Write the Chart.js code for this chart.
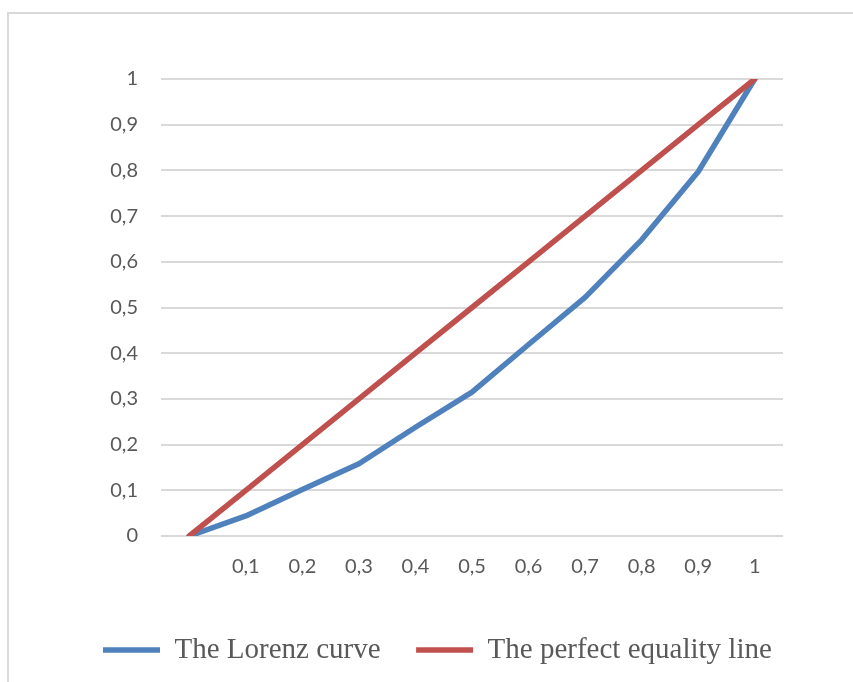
<!DOCTYPE html>
<html>
<head>
<meta charset="utf-8">
<script src="https://cdn.jsdelivr.net/npm/chart.js@4/dist/chart.umd.min.js"></script>
<style>
  html, body { margin: 0; padding: 0; background: #ffffff; }
  #wrap { position: relative; width: 853px; height: 682px; overflow: hidden; }
  #frame { position: absolute; left: 7px; top: 12px; width: 900px; height: 700px;
           border-left: 2px solid #d9d9d9; border-top: 2px solid #d9d9d9; box-sizing: border-box; }
  canvas { position: absolute; left: 0; top: 0; }
</style>
</head>
<body>
<div id="wrap">
  <div id="frame"></div>
  <canvas id="c" width="853" height="682"></canvas>
</div>
<script>
// Categories (x positions); first one is the unlabeled origin
const xLabels = ['', '0,1', '0,2', '0,3', '0,4', '0,5', '0,6', '0,7', '0,8', '0,9', '1'];
// Y tick labels
const yTickLabels = ['0', '0,1', '0,2', '0,3', '0,4', '0,5', '0,6', '0,7', '0,8', '0,9', '1'];
// Series
const lorenzValues = [0, 0.044, 0.102, 0.158, 0.238, 0.315, 0.419, 0.522, 0.648, 0.797, 1];
const equalityValues = [0, 0.1, 0.2, 0.3, 0.4, 0.5, 0.6, 0.7, 0.8, 0.9, 1];
const seriesNames = ['The Lorenz curve', 'The perfect equality line'];

const BLUE = '#4f81bd';
const RED = '#c0504d';
const TEXT = '#595959';

new Chart(document.getElementById('c'), {
  type: 'line',
  data: {
    labels: xLabels,
    datasets: [
      {
        label: seriesNames[0],
        data: lorenzValues,
        borderColor: BLUE,
        backgroundColor: BLUE,
        borderWidth: 5.5,
        borderCapStyle: 'round',
        borderJoinStyle: 'round',
        pointRadius: 0,
        tension: 0,
        order: 1
      },
      {
        label: seriesNames[1],
        data: equalityValues,
        borderColor: RED,
        backgroundColor: RED,
        borderWidth: 5.5,
        borderCapStyle: 'round',
        borderJoinStyle: 'round',
        pointRadius: 0,
        tension: 0,
        order: 0
      }
    ]
  },
  options: {
    responsive: false,
    animation: false,
    layout: { padding: { top: 79, right: 20, bottom: 7.5, left: 67.5 } },
    plugins: {
      tooltip: { enabled: false },
      legend: {
        display: true,
        position: 'bottom',
        align: 'start',
        labels: {
          usePointStyle: true,
          pointStyle: 'line',
          pointStyleWidth: 57,
          padding: 35.5,
          color: TEXT,
          font: { family: '"Liberation Serif", "Times New Roman", serif', size: 29 },
          sort: (a, b) => a.datasetIndex - b.datasetIndex
        }
      }
    },
    scales: {
      x: {
        type: 'category',
        offset: true,
        grid: { display: false, drawTicks: false },
        border: { display: false },
        ticks: {
          color: TEXT,
          padding: 19,
          maxRotation: 0,
          autoSkip: false,
          font: { family: 'Lato, "Open Sans", sans-serif', size: 20 }
        },
        afterFit: (scale) => { scale.height = 64; }
      },
      y: {
        min: 0,
        max: 1,
        grid: { color: '#d9d9d9', lineWidth: 2, drawTicks: false },
        border: { display: false },
        ticks: {
          stepSize: 0.1,
          color: TEXT,
          padding: 23,
          font: { family: 'Lato, "Open Sans", sans-serif', size: 20 },
          callback: (v, i) => yTickLabels[i]
        },
        afterFit: (scale) => { scale.width = 93.5; }
      },
      yRight: {
        position: 'right',
        display: true,
        grid: { display: false, drawTicks: false },
        border: { display: false },
        ticks: { display: false },
        afterFit: (scale) => { scale.width = 50; }
      }
    }
  }
});
</script>
</body>
</html>
